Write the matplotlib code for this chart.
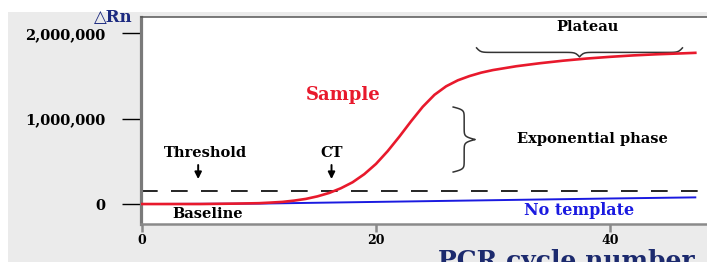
import numpy as np
import matplotlib
matplotlib.use("Agg")
import matplotlib.pyplot as plt
from matplotlib.patches import Rectangle

# Данные: цикл ПЦР и сигнал (ΔRn) для образца и контроля без матрицы
cycles = [0, 5, 8, 10, 11, 12, 13, 14, 15, 16, 17, 18, 19, 20, 21, 22, 23, 24,
          25, 26, 27, 28, 29, 30, 32, 34, 36, 38, 40, 42, 44, 46, 47.3]
sample = [0, 0, 5e3, 1.0e4, 1.7e4, 2.5e4, 4.0e4, 6.0e4, 9.0e4, 1.3e5, 1.85e5,
          2.55e5, 3.5e5, 4.7e5, 6.2e5, 7.9e5, 9.7e5, 1.14e6, 1.28e6, 1.38e6,
          1.45e6, 1.50e6, 1.54e6, 1.57e6, 1.615e6, 1.65e6, 1.68e6, 1.705e6,
          1.725e6, 1.742e6, 1.755e6, 1.765e6, 1.772e6]
no_tmpl_cycles = [0, 10, 20, 30, 40, 47.3]
no_tmpl = [0, 5e3, 2.5e4, 4.5e4, 6.5e4, 7.8e4]
threshold = 1.52e5
ct_cycle = 16.2

yticks = [0, 1e6, 2e6]
yticklabels = ["0", "1,000,000", "2,000,000"]
xticks = [0, 20, 40]

serif = ["DejaVu Serif", "DejaVu Sans"]
plt.rcParams["font.family"] = serif
plt.rcParams["font.weight"] = "bold"

fig = plt.figure(figsize=(7.07, 2.62), dpi=100)
fig.patch.set_facecolor("white")
# серый фон картинки
fig.patches.append(Rectangle((8 / 707, 0), 1, 250 / 262, transform=fig.transFigure,
                             facecolor="#ebebeb", edgecolor="none", zorder=-10))

ax = fig.add_axes([140.5 / 707, 38 / 262, 1 - 140.5 / 707, 207 / 262])
ax.set_facecolor("white")
ax.set_xlim(-0.13, 48.3)
ax.set_ylim(-0.234e6, 2.192e6)

ax.plot(cycles, sample, color="#e8192c", lw=1.9, zorder=3)
ax.plot(no_tmpl_cycles, no_tmpl, color="#1a1ae0", lw=1.4, zorder=2)
ax.axhline(threshold, color="black", lw=1.2, dashes=(10, 8), zorder=1)

# оси
ax.spines["right"].set_visible(False)
ax.spines["left"].set_color("#7a7a7a")
ax.spines["left"].set_linewidth(2.3)
ax.spines["bottom"].set_color("#8a8a8a")
ax.spines["bottom"].set_linewidth(1.8)
ax.spines["top"].set_color("#555555")
ax.spines["top"].set_linewidth(1.1)

ax.set_yticks(yticks)
ax.set_yticklabels(yticklabels, fontsize=10.5, fontweight="bold")
ax.set_xticks(xticks)
ax.set_xticklabels([str(t) for t in xticks], fontsize=9, fontweight="bold")
ax.tick_params(axis="y", direction="out", length=14, width=1, color="black", pad=11)
ax.tick_params(axis="x", direction="out", length=6, width=1.8, color="#8a8a8a", pad=1.5)


def brace(ax, p0, p1, depth, k=0.6, **kw):
    # фигурная скобка между двумя точками (в пикселях), остриём вбок
    a = ax.transData.transform(p0)
    b = ax.transData.transform(p1)
    d = b - a
    L = np.hypot(*d)
    u = d / L
    n = np.array([-u[1], u[0]])
    half = L / 2
    q = np.linspace(0, half, 60)
    h = 1 / (1 + np.exp(-k * (q - q[0]))) + 1 / (1 + np.exp(-k * (q - q[-1]))) - 0.5
    s = np.concatenate([q, q + half])
    off = np.concatenate([h, h[::-1]]) * depth
    pts = a + np.outer(s, u) + np.outer(off, n)
    pts = ax.transData.inverted().transform(pts)
    ax.plot(pts[:, 0], pts[:, 1], clip_on=False, **kw)


brace(ax, (28.6, 1.83e6), (46.2, 1.83e6), -9, k=0.5, color="#333333", lw=1.1)
brace(ax, (26.6, 1.137e6), (26.6, 0.375e6), 22, k=0.7, color="#333333", lw=1.1)

txt = dict(fontweight="bold", color="black", ha="center", va="center")
ax.text(5.4, 0.60e6, "Threshold", fontsize=10.5, **txt)
ax.text(ct_cycle, 0.60e6, "CT", fontsize=10.5, **txt)
ax.text(5.6, -0.117e6, "Baseline", fontsize=10.5, **txt)
ax.text(38.5, 0.76e6, "Exponential phase", fontsize=10.5, **txt)
ax.text(38.1, 2.07e6, "Plateau", fontsize=10.5, **txt)
ax.text(17.2, 1.28e6, "Sample", fontsize=13, fontweight="bold", color="#e8192c",
        ha="center", va="center")
ax.text(37.4, -0.07e6, "No template", fontsize=11.5, fontweight="bold", color="#1a1ae0",
        ha="center", va="center")

arrow = dict(arrowstyle="-|>", color="black", lw=1.4, mutation_scale=10)
ax.annotate("", xy=(4.8, 0.26e6), xytext=(4.8, 0.49e6), arrowprops=arrow)
ax.annotate("", xy=(ct_cycle, 0.26e6), xytext=(ct_cycle, 0.49e6), arrowprops=arrow)

fig.text(133 / 707, 1 - 22.5 / 262, "△Rn", fontsize=12, fontweight="bold",
         color="#1c2a80", ha="right", va="baseline", family=serif)
fig.text(566 / 707, -6 / 262, "PCR cycle number", fontsize=18, fontweight="bold",
         color="#1c2a6e", ha="center", va="baseline")

fig.savefig("out.png", dpi=100)
